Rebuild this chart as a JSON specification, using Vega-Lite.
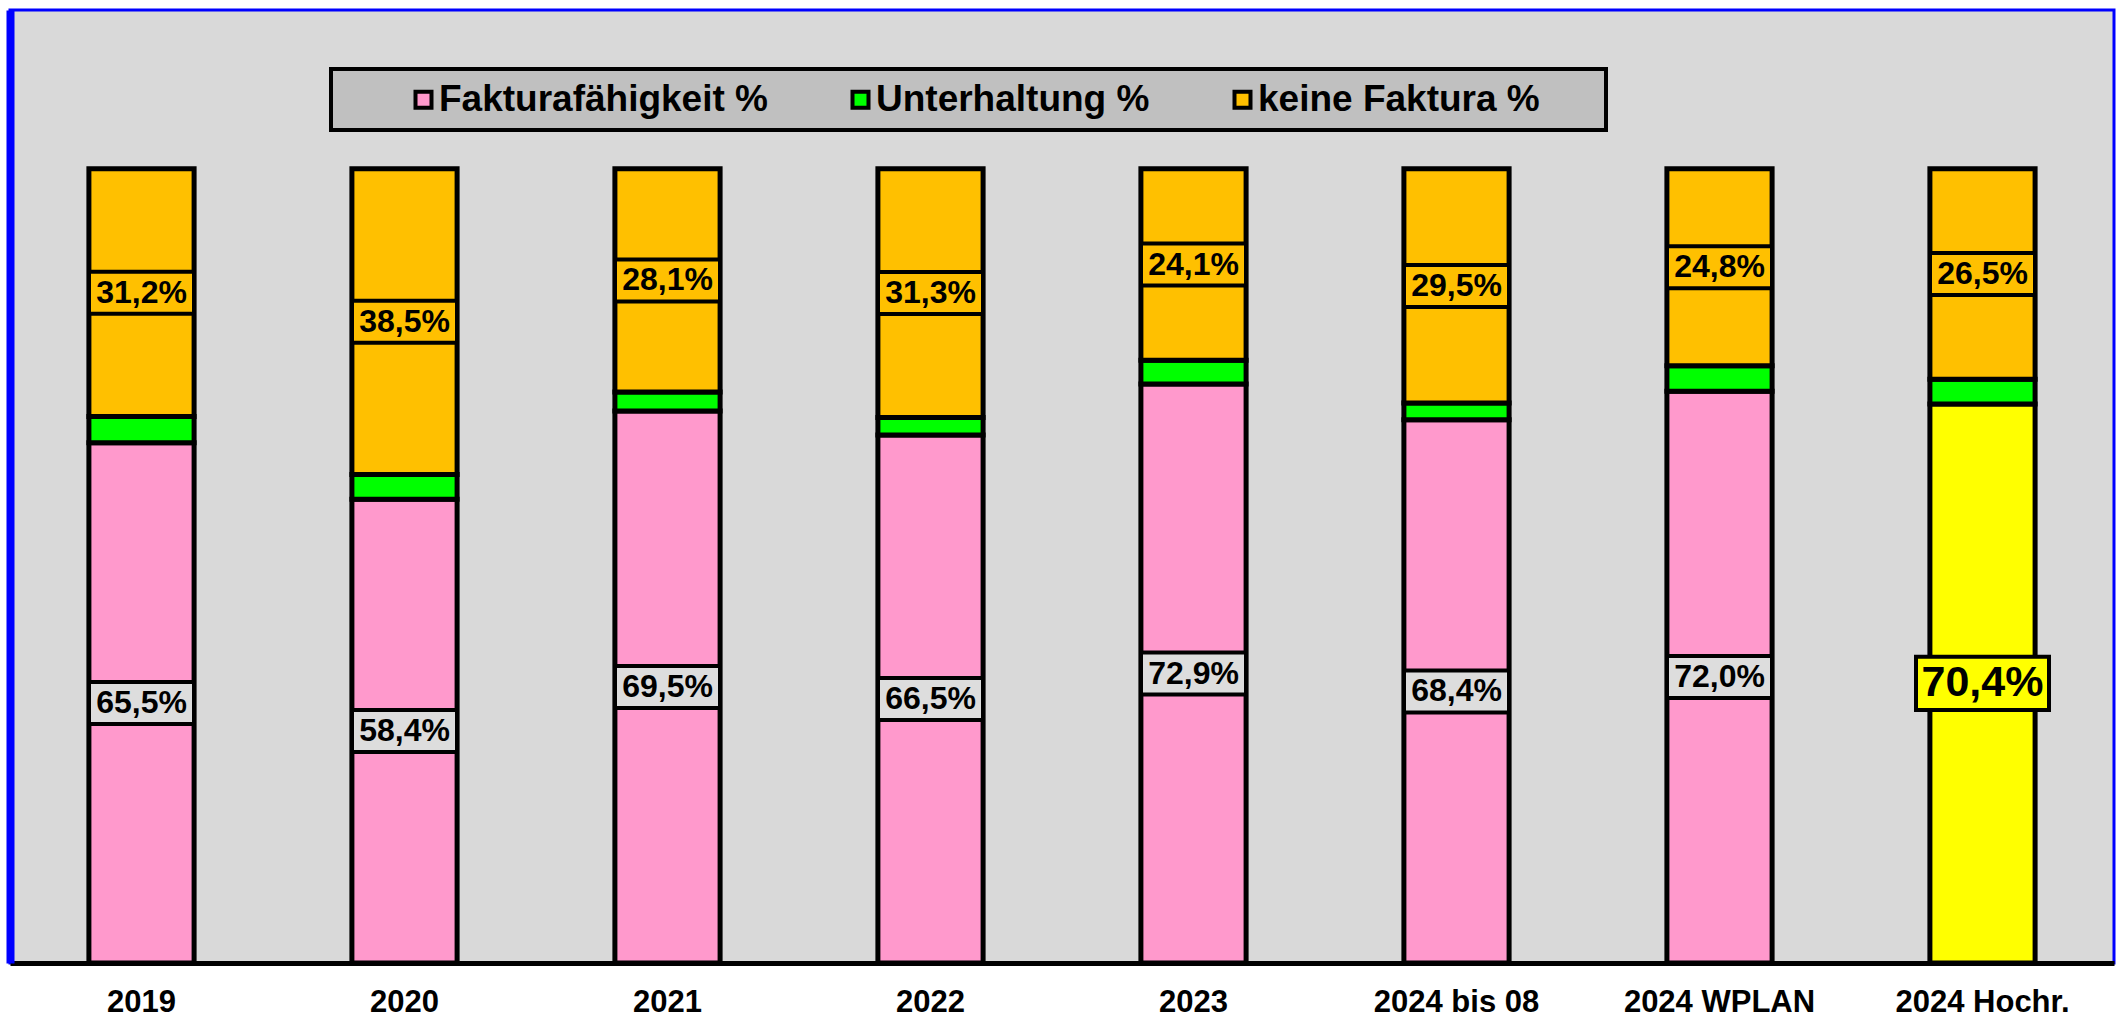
{
  "$schema": "https://vega.github.io/schema/vega-lite/v6.json",
  "width": 2104,
  "height": 953,
  "autosize": {"type": "none"},
  "padding": {"left": 10, "top": 10, "right": 7, "bottom": 55},
  "background": "white",
  "data": {
    "values": [
      {"Kategorie": "2019", "Reihe": "Fakturafähigkeit %", "Wert": 0.655},
      {"Kategorie": "2019", "Reihe": "Unterhaltung %", "Wert": 0.033},
      {"Kategorie": "2019", "Reihe": "keine Faktura %", "Wert": 0.312},
      {"Kategorie": "2020", "Reihe": "Fakturafähigkeit %", "Wert": 0.584},
      {"Kategorie": "2020", "Reihe": "Unterhaltung %", "Wert": 0.031},
      {"Kategorie": "2020", "Reihe": "keine Faktura %", "Wert": 0.385},
      {"Kategorie": "2021", "Reihe": "Fakturafähigkeit %", "Wert": 0.695},
      {"Kategorie": "2021", "Reihe": "Unterhaltung %", "Wert": 0.024},
      {"Kategorie": "2021", "Reihe": "keine Faktura %", "Wert": 0.281},
      {"Kategorie": "2022", "Reihe": "Fakturafähigkeit %", "Wert": 0.665},
      {"Kategorie": "2022", "Reihe": "Unterhaltung %", "Wert": 0.022},
      {"Kategorie": "2022", "Reihe": "keine Faktura %", "Wert": 0.313},
      {"Kategorie": "2023", "Reihe": "Fakturafähigkeit %", "Wert": 0.729},
      {"Kategorie": "2023", "Reihe": "Unterhaltung %", "Wert": 0.030},
      {"Kategorie": "2023", "Reihe": "keine Faktura %", "Wert": 0.241},
      {"Kategorie": "2024 bis 08", "Reihe": "Fakturafähigkeit %", "Wert": 0.684},
      {"Kategorie": "2024 bis 08", "Reihe": "Unterhaltung %", "Wert": 0.021},
      {"Kategorie": "2024 bis 08", "Reihe": "keine Faktura %", "Wert": 0.295},
      {"Kategorie": "2024 WPLAN", "Reihe": "Fakturafähigkeit %", "Wert": 0.720},
      {"Kategorie": "2024 WPLAN", "Reihe": "Unterhaltung %", "Wert": 0.032},
      {"Kategorie": "2024 WPLAN", "Reihe": "keine Faktura %", "Wert": 0.248},
      {"Kategorie": "2024 Hochr.", "Reihe": "Fakturafähigkeit %", "Wert": 0.704},
      {"Kategorie": "2024 Hochr.", "Reihe": "Unterhaltung %", "Wert": 0.031},
      {"Kategorie": "2024 Hochr.", "Reihe": "keine Faktura %", "Wert": 0.265}
    ]
  },
  "transform": [
    {"stack": "Wert", "groupby": ["Kategorie"], "sort": [{"field": "Reihe", "order": "ascending"}], "as": ["y0", "y1"]}
  ],
  "encoding": {
    "x": {
      "field": "Kategorie",
      "type": "nominal",
      "sort": ["2019", "2020", "2021", "2022", "2023", "2024 bis 08", "2024 WPLAN", "2024 Hochr."],
      "scale": {"paddingInner": 0.6, "paddingOuter": 0.3},
      "axis": {
        "title": null,
        "labelAngle": 0,
        "labelFont": "Liberation Sans",
        "labelFontWeight": "bold",
        "labelFontSize": 31,
        "labelColor": "black",
        "labelPadding": 24,
        "labelLimit": 400,
        "ticks": false,
        "tickSize": 0,
        "domainColor": "black",
        "domainWidth": 5,
        "grid": false
      }
    }
  },
  "layer": [
    {
      "mark": {"type": "bar", "stroke": "black", "strokeWidth": 5, "opacity": 1},
      "encoding": {
        "y": {
          "field": "y0",
          "type": "quantitative",
          "scale": {"domain": [0, 1.2], "nice": false},
          "axis": {"title": null, "labels": false, "ticks": false, "grid": false, "domainColor": "blue", "domainWidth": 8}
        },
        "y2": {"field": "y1"},
        "color": {
          "field": "Reihe",
          "type": "nominal",
          "scale": {
            "domain": ["Fakturafähigkeit %", "Unterhaltung %", "keine Faktura %"],
            "range": ["#FF99CC", "#00FF00", "#FFC000"]
          },
          "legend": {
            "orient": "none",
            "legendX": 321,
            "legendY": 59,
            "direction": "horizontal",
            "title": "\u00a0",
            "titleOrient": "left",
            "titlePadding": 62,
            "titleFontSize": 34,
            "labelExpr": "datum.label == 'keine Faktura %' ? datum.label + '\u2800\u2800' : datum.label"
          },
          "condition": {"test": "datum.Kategorie === '2024 Hochr.' && datum.Reihe === 'Fakturafähigkeit %'", "value": "#FFFF00"}
        }
      }
    },
    {
      "transform": [
        {"filter": "datum.Reihe !== 'Unterhaltung %'"},
        {"calculate": "(datum.y0 + datum.y1) / 2", "as": "mitte"}
      ],
      "layer": [
        {
          "mark": {"type": "point", "shape": "M-1,-0.4H1V0.4H-1Z", "filled": true, "stroke": "black", "strokeWidth": 4, "opacity": 1},
          "encoding": {
            "y": {
              "field": "mitte", "type": "quantitative", "scale": {"domain": [0, 1.2], "nice": false},
              "axis": {"title": null, "labels": false, "ticks": false, "grid": false, "domainColor": "blue", "domainWidth": 8}
            },
            "fill": {
              "condition": [
                {"test": "datum.Kategorie === '2024 Hochr.' && datum.Reihe === 'Fakturafähigkeit %'", "value": "#FFFF00"},
                {"test": "datum.Reihe === 'keine Faktura %'", "value": "#FFC000"}
              ],
              "value": "#DDDDDD"
            },
            "size": {
              "condition": {"test": "datum.Kategorie === '2024 Hochr.' && datum.Reihe === 'Fakturafähigkeit %'", "value": 17689},
              "value": 11025
            }
          }
        },
        {
          "mark": {"type": "text", "font": "Liberation Sans", "fontWeight": "bold", "color": "black", "align": "center", "baseline": "middle"},
          "encoding": {
            "y": {
              "field": "mitte", "type": "quantitative", "scale": {"domain": [0, 1.2], "nice": false},
              "axis": {"title": null, "labels": false, "ticks": false, "grid": false, "domainColor": "blue", "domainWidth": 8}
            },
            "text": {"field": "Wert", "type": "quantitative", "format": ".1%"},
            "size": {
              "condition": {"test": "datum.Kategorie === '2024 Hochr.' && datum.Reihe === 'Fakturafähigkeit %'", "value": 43},
              "value": 32
            }
          }
        }
      ]
    }
  ],
  "config": {
    "locale": {
      "number": {"decimal": ",", "thousands": ".", "grouping": [3], "currency": ["", " €"]}
    },
    "font": "Liberation Sans",
    "view": {"fill": "#D9D9D9", "stroke": "blue", "strokeWidth": 3},
    "legend": {
      "fillColor": "#C0C0C0",
      "strokeColor": "black",
      "strokeWidth": 4,
      "padding": 12,
      "columnPadding": 74,
      "symbolType": "square",
      "symbolSize": 256,
      "symbolStrokeColor": "black",
      "symbolStrokeWidth": 4,
      "symbolOpacity": 1,
      "labelFont": "Liberation Sans",
      "labelFontWeight": "bold",
      "labelFontSize": 37,
      "labelColor": "black",
      "labelOffset": -3,
      "labelLimit": 0,
      "titleFont": "Liberation Sans"
    }
  }
}
